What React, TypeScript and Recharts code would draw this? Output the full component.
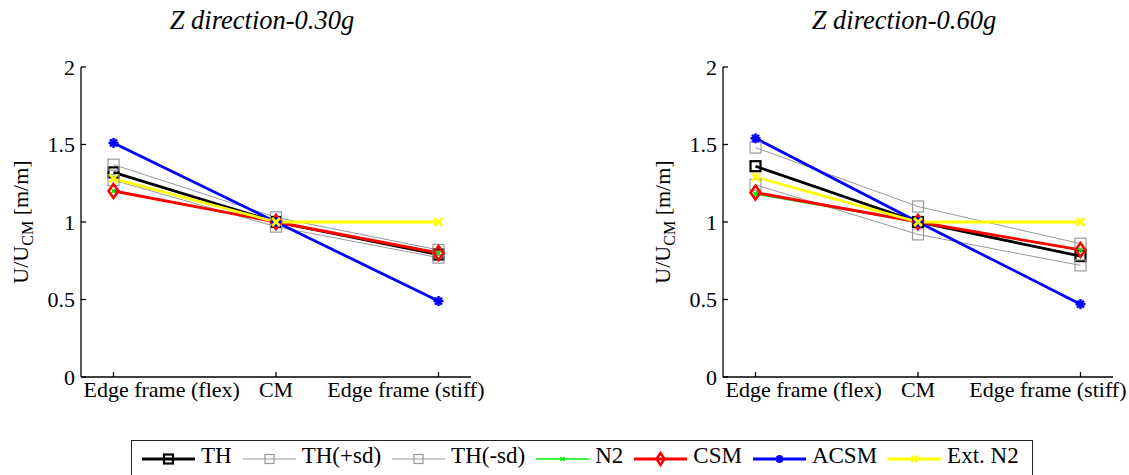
import React from "react";
import { LineChart, Line, XAxis, YAxis } from "recharts";

const categories = ["Edge frame (flex)", "CM", "Edge frame (stiff)"];
const yTicks = [0, 0.5, 1, 1.5, 2];

// Z direction 0.30g
const th30 = [1.32, 1.0, 0.79];
const thPlus30 = [1.37, 1.03, 0.82];
const thMinus30 = [1.27, 0.97, 0.77];
const n230 = [1.2, 1.0, 0.8];
const csm30 = [1.2, 1.0, 0.8];
const acsm30 = [1.51, 1.0, 0.49];
const extN230 = [1.28, 1.0, 1.0];

// Z direction 0.60g
const th60 = [1.36, 1.0, 0.78];
const thPlus60 = [1.48, 1.1, 0.86];
const thMinus60 = [1.24, 0.92, 0.72];
const n260 = [1.18, 1.0, 0.82];
const csm60 = [1.19, 1.0, 0.82];
const acsm60 = [1.54, 1.0, 0.47];
const extN260 = [1.29, 1.0, 1.0];

const FONT = '"Liberation Serif"';

const buildRows = (th: number[], thp: number[], thm: number[], n2: number[], csm: number[], acsm: number[], ext: number[]) =>
  categories.map((_, i) => ({
    x: i + 1,
    th: th[i],
    thp: thp[i],
    thm: thm[i],
    n2: n2[i],
    csm: csm[i],
    acsm: acsm[i],
    ext: ext[i],
  }));

type Shape = "square" | "diamond" | "x" | "star";

const marker = (shape: Shape, color: string, size: number, sw: number) => (props: any) => {
  const { cx, cy, index } = props;
  if (cx == null || cy == null) return <g key={index} />;
  const h = size / 2;
  if (shape === "square")
    return <rect key={index} x={cx - h} y={cy - h} width={size} height={size} fill="none" stroke={color} strokeWidth={sw} />;
  if (shape === "diamond")
    return (
      <polygon
        key={index}
        points={`${cx},${cy - h - 1} ${cx + h - 1},${cy} ${cx},${cy + h + 1} ${cx - h + 1},${cy}`}
        fill="none"
        stroke={color}
        strokeWidth={sw}
      />
    );
  if (shape === "x")
    return (
      <g key={index} stroke={color} strokeWidth={sw}>
        <line x1={cx - h} y1={cy - h} x2={cx + h} y2={cy + h} />
        <line x1={cx - h} y1={cy + h} x2={cx + h} y2={cy - h} />
      </g>
    );
  return (
    <g key={index} stroke={color} strokeWidth={sw}>
      <line x1={cx - h} y1={cy} x2={cx + h} y2={cy} />
      <line x1={cx} y1={cy - h} x2={cx} y2={cy + h} />
      <line x1={cx - h * 0.7} y1={cy - h * 0.7} x2={cx + h * 0.7} y2={cy + h * 0.7} />
      <line x1={cx - h * 0.7} y1={cy + h * 0.7} x2={cx + h * 0.7} y2={cy - h * 0.7} />
    </g>
  );
};

const series = [
  { key: "th", name: "TH", color: "#000000", width: 2.8, shape: "square" as Shape, size: 10, msw: 2.2 },
  { key: "thp", name: "TH(+sd)", color: "#999999", width: 1, shape: "square" as Shape, size: 11, msw: 1.2 },
  { key: "thm", name: "TH(-sd)", color: "#999999", width: 1, shape: "square" as Shape, size: 11, msw: 1.2 },
  { key: "n2", name: "N2", color: "#00ee00", width: 1.6, shape: "x" as Shape, size: 6, msw: 1.6 },
  { key: "csm", name: "CSM", color: "#ff0000", width: 2.8, shape: "diamond" as Shape, size: 12, msw: 2.5 },
  { key: "acsm", name: "ACSM", color: "#0000ff", width: 2.8, shape: "star" as Shape, size: 10, msw: 2.5 },
  { key: "ext", name: "Ext. N2", color: "#ffff00", width: 2.8, shape: "x" as Shape, size: 8, msw: 2.5 },
];

const YLabel = (props: any) => {
  const vb = props.viewBox || { x: 21, y: 67, height: 310 };
  const cx = vb.x + 7;
  const cy = vb.y + vb.height / 2;
  return (
    <text
      x={cx}
      y={cy}
      transform={`rotate(-90, ${cx}, ${cy})`}
      textAnchor="middle"
      fontFamily={FONT}
      fontSize={22}
      fill="#000"
    >
      U/U
      <tspan fontSize={16} dy={5}>CM</tspan>
      <tspan dy={-5}> [m/m]</tspan>
    </text>
  );
};

// edge labels sit flush with the box, as in the original figure
const XTick = (props: any) => {
  const { x, y, payload } = props;
  const v = payload.value;
  let anchor: "start" | "middle" | "end" = "middle";
  let tx = x;
  if (v === 1) {
    anchor = "start";
    tx = x - 30;
  } else if (v === 3) {
    anchor = "end";
    tx = x + 46;
  }
  return (
    <text x={tx} y={y} dy="0.71em" textAnchor={anchor} fontFamily={FONT} fontSize={22} fill="#000">
      {categories[v - 1]}
    </text>
  );
};

const Panel = ({ data, title, left }: { data: any[]; title: string; left: number }) => (
  <div style={{ position: "absolute", left, top: 0, width: 520, height: 420 }}>
    <div
      style={{
        position: "absolute",
        left: 67,
        width: 390,
        top: 5,
        textAlign: "center",
        fontFamily: FONT,
        fontStyle: "italic",
        fontSize: 26.5,
      }}
    >
      {title}
    </div>
    <LineChart width={520} height={420} data={data} margin={{ top: 67, right: 49, bottom: 13, left: 21 }}>
      <XAxis
        dataKey="x"
        type="number"
        domain={[0.8, 3.2]}
        ticks={[1, 2, 3]}
        tick={<XTick />}
        tickSize={-5}
        tickMargin={9}
        height={30}
        stroke="#000"
        strokeWidth={1.3}
        interval={0}
      />
      <XAxis
        xAxisId="t"
        orientation="top"
        dataKey="x"
        type="number"
        domain={[0.8, 3.2]}
        ticks={[1, 2, 3]}
        tickFormatter={() => ""}
        tickSize={-5}
        height={0}
        stroke="#000"
        strokeWidth={1.3}
      />
      <YAxis
        domain={[0, 2]}
        ticks={yTicks}
        tickSize={-5}
        tickMargin={11}
        width={60}
        stroke="#000"
        strokeWidth={1.3}
        tick={{ fill: "#000", fontSize: 22, fontFamily: FONT }}
        label={{ content: YLabel }}
      />
      <YAxis
        yAxisId="r"
        orientation="right"
        domain={[0, 2]}
        ticks={yTicks}
        tickFormatter={() => ""}
        tickSize={-5}
        width={0}
        stroke="#000"
        strokeWidth={1.3}
      />
      {series.map((s) => (
        <Line
          key={s.key}
          dataKey={s.key}
          name={s.name}
          stroke={s.color}
          strokeWidth={s.width}
          dot={marker(s.shape, s.color, s.size, s.msw)}
          activeDot={false}
          isAnimationActive={false}
        />
      ))}
    </LineChart>
  </div>
);

const Legend = () => (
  <div
    style={{
      position: "absolute",
      left: 131,
      top: 440,
      width: 902,
      height: 45,
      border: "1.5px solid #222",
      display: "flex",
      alignItems: "flex-start",
      paddingLeft: 10,
      boxSizing: "border-box",
      fontFamily: FONT,
      fontSize: 23,
      lineHeight: "30px",
    }}
  >
    {series.map((s) => (
      <div key={s.key} style={{ display: "flex", alignItems: "center", marginRight: 11 }}>
        <svg width={53} height={30}>
          <line x1={0} y1={18} x2={53} y2={18} stroke={s.color} strokeWidth={s.width} />
          {marker(s.shape, s.color, s.shape === "square" ? 9 : s.size - 2, s.msw)({ cx: 26.5, cy: 18, index: 0 })}
        </svg>
        <span style={{ marginLeft: 6 }}>{s.name}</span>
      </div>
    ))}
  </div>
);

export default function App() {
  return (
    <div style={{ position: "absolute", left: 0, top: 0, width: 1129, height: 475, overflow: "hidden", background: "#fff" }}>
      <Panel data={buildRows(th30, thPlus30, thMinus30, n230, csm30, acsm30, extN230)} title="Z direction-0.30g" left={0} />
      <Panel data={buildRows(th60, thPlus60, thMinus60, n260, csm60, acsm60, extN260)} title="Z direction-0.60g" left={642} />
      <Legend />
    </div>
  );
}
